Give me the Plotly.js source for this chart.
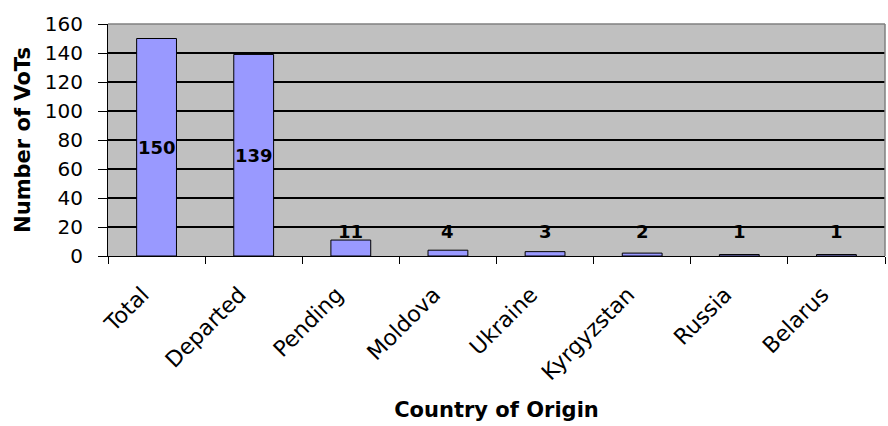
<!DOCTYPE html>
<html><head><meta charset="utf-8">
<script src="https://cdn.plot.ly/plotly-3.0.1.min.js"></script>
<style>html,body{margin:0;padding:0;background:#fff;}#chart{width:888px;height:426px;}</style>
</head><body><div id="chart"></div>
<script>
const categories = ["Total","Departed","Pending","Moldova","Ukraine","Kyrgyzstan","Russia","Belarus"];
const values = [150,139,11,4,3,2,1,1];
const yTicks = [0,20,40,60,80,100,120,140,160];

const FONT = "DejaVu Sans, Verdana, sans-serif";
const labelLevel = 17;
const annotations = categories.map((c,i)=>({
  x: c, y: values[i] > 30 ? values[i]/2 : labelLevel,
  xref:'x', yref:'y', text: String(values[i]), showarrow:false,
  font:{family:FONT, size:18, color:'#000', weight:'bold'}
}));

const trace = {
  type:'bar', x: categories, y: values,
  marker:{color:'#9999FF', line:{color:'#000', width:1}},
  width:0.41, hoverinfo:'none'
};

const layout = {
  width:888, height:426,
  margin:{l:108, r:3, t:24, b:170},
  paper_bgcolor:'#fff', plot_bgcolor:'#C0C0C0',
  showlegend:false,
  font:{family:FONT, color:'#000'},
  xaxis:{
    type:'category', tickangle:-45, ticks:'outside', tickson:'boundaries',
    ticklen:7, tickcolor:'#000', showgrid:false, showline:true, linecolor:'#000', linewidth:1,
    tickfont:{family:FONT, size:22, color:'#000'}, ticklabelstandoff:16, ticklabelshift:-14,
    title:{text:'Country of Origin', font:{family:FONT, size:21, color:'#000', weight:'bold'}, standoff:18},
    automargin:false
  },
  yaxis:{
    range:[0,160], tickvals:yTicks, ticks:'outside', ticklen:9, tickcolor:'#000',
    showgrid:true, gridcolor:'#000', gridwidth:1.5, zeroline:false,
    showline:true, linecolor:'#000', linewidth:1, mirror:false,
    tickfont:{family:FONT, size:20, color:'#000'}, ticklabelstandoff:11,
    title:{text:'Number of VoTs', font:{family:FONT, size:21, color:'#000', weight:'bold'}, standoff:8},
    automargin:false
  },
  shapes:[
    {type:'line', xref:'paper', yref:'paper', x0:0, x1:1, y0:1, y1:1, line:{color:'#808080', width:1.5}},
    {type:'line', xref:'paper', yref:'paper', x0:1, x1:1, y0:0, y1:1, line:{color:'#808080', width:1.5}}
  ],
  annotations: annotations
};

Plotly.newPlot('chart', [trace], layout, {staticPlot:true, displayModeBar:false});
</script></body></html>
